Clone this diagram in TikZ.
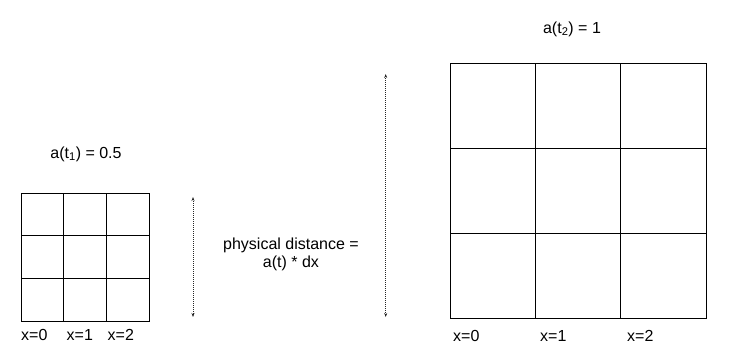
\documentclass[tikz,border=0pt]{standalone}
\usepackage{fontspec}
\setmainfont{Liberation Sans}
\usetikzlibrary{positioning,arrows.meta}

\begin{document}
\begin{tikzpicture}[x=1pt, y=-1pt,
  every node/.style={font=\fontsize{16}{18}\selectfont, inner sep=0pt},
  gridline/.style={draw=black, line width=1pt},
  measure/.style={{Stealth[length=4pt,width=3pt]}-{Stealth[length=4pt,width=3pt]},
                  line width=0.6pt, dash pattern=on 1pt off 1pt, draw=black!85},
  xlbl/.style={anchor=west}
]
\useasboundingbox (0,0) rectangle (743,362);
% Small grid at t1
\draw[gridline] (21,193) rectangle (149,321);
\foreach \i in {1,2} {
  \draw[gridline] ({21+\i*128/3},193) -- ({21+\i*128/3},321);
  \draw[gridline] (21,{193+\i*128/3}) -- (149,{193+\i*128/3});
}
\node (aone) at (86,154) {a(t\textsubscript{1}) = 0.5};
\node[xlbl] (sx0) at (21,335)    {x=0};
\node[xlbl] (sx1) at (66.5,335)  {x=1};
\node[xlbl] (sx2) at (107.5,335) {x=2};
% Large grid at t2
\draw[gridline] (450,63) rectangle (706,318);
\foreach \i in {1,2} {
  \draw[gridline] ({450+\i*256/3},63) -- ({450+\i*256/3},318);
  \draw[gridline] (450,{63+\i*255/3}) -- (706,{63+\i*255/3});
}
\node (atwo) at (572,29) {a(t\textsubscript{2}) = 1};
\node[xlbl] (bx0) at (453,336) {x=0};
\node[xlbl] (bx1) at (540,336) {x=1};
\node[xlbl] (bx2) at (627,336) {x=2};
% Distance markers
\coordinate (stop) at (193,197);
\coordinate (sbot) at (193,317);
\coordinate (btop) at (385.7,74);
\coordinate (bbot) at (385.7,317);
\draw[measure] (stop) -- (sbot);
\draw[measure] (btop) -- (bbot);
\node[align=center] (dist) at (291,254) {physical distance =\\a(t) * dx};
\end{tikzpicture}
\end{document}
